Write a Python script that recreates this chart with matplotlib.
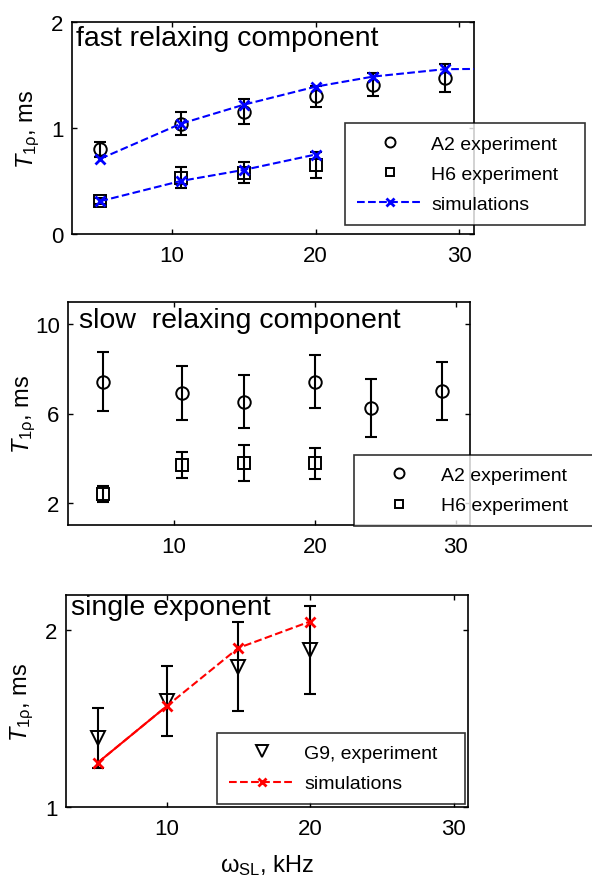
import matplotlib
matplotlib.use("Agg")
import matplotlib.pyplot as plt

plt.rcParams["font.family"] = ["Liberation Sans", "DejaVu Sans"]
plt.rcParams["mathtext.fontset"] = "custom"
plt.rcParams["mathtext.rm"] = "Liberation Sans"
plt.rcParams["mathtext.it"] = "Liberation Sans:italic"
plt.rcParams["mathtext.bf"] = "Liberation Sans:bold"

# ---- fast relaxing component ----
fast_x = [5, 10.6, 15, 20, 24, 29]
fast_a2 = [0.80, 1.04, 1.155, 1.30, 1.41, 1.47]
fast_a2_err = [0.07, 0.11, 0.12, 0.10, 0.11, 0.13]
fast_a2_sim_x = [5, 10.6, 15, 20, 24, 29, 34]
fast_a2_sim = [0.71, 1.04, 1.22, 1.39, 1.485, 1.555, 1.56]
fast_h6_x = [5, 10.6, 15, 20]
fast_h6 = [0.31, 0.53, 0.58, 0.65]
fast_h6_err = [0.03, 0.10, 0.10, 0.12]
fast_h6_sim = [0.31, 0.50, 0.605, 0.75]

# ---- slow relaxing component ----
slow_x = [5, 10.6, 15, 20, 24, 29]
slow_a2 = [7.43, 6.93, 6.53, 7.43, 6.23, 7.03]
slow_a2_err = [1.33, 1.2, 1.2, 1.2, 1.3, 1.3]
slow_h6_x = [5, 10.6, 15, 20]
slow_h6 = [2.39, 3.69, 3.77, 3.77]
slow_h6_err = [0.35, 0.6, 0.8, 0.7]

# ---- single exponent ----
g9_x = [5.2, 10, 15, 20]
g9 = [1.39, 1.60, 1.795, 1.89]
g9_err = [0.17, 0.20, 0.25, 0.25]
g9_sim = [1.25, 1.57, 1.90, 2.05]

W, H = 592, 879
fig = plt.figure(figsize=(W / 100, H / 100), dpi=100)


def px_axes(left, top, right, bottom):
    return fig.add_axes([left / W, 1 - bottom / H, (right - left) / W, (bottom - top) / H])


def style(ax):
    for s in ax.spines.values():
        s.set_linewidth(1.2)
    ax.tick_params(direction="in", top=True, right=True, length=3.5, width=1.0,
                   labelsize=16, colors="black")
    ax.tick_params(axis="x", pad=8)
    ax.tick_params(axis="y", pad=6)
    ax.set_ylabel(r"$T_{\mathrm{1\rho}}$, ms", fontsize=17)


def fig_legend(ax, handles, labels, left, top, right):
    leg = ax.legend(handles, labels, loc="upper left", mode="expand",
                    bbox_to_anchor=(left / W, 1 - top / H, (right - left) / W, 0),
                    bbox_transform=fig.transFigure, borderaxespad=0,
                    fontsize=14, frameon=True, fancybox=False, handlelength=3.4,
                    handletextpad=0.45, labelspacing=0.65, borderpad=0.62,
                    markerscale=0.8)
    leg.get_frame().set_edgecolor("black")
    leg.get_frame().set_linewidth(1.2)
    leg.set_zorder(10)
    return leg


eb = dict(fmt="none", ecolor="black", elinewidth=1.5, capsize=4, capthick=1.5, zorder=2)
mk = dict(linestyle="none", mfc="none", mec="black", mew=1.4, zorder=3)
sim_kw = dict(linestyle="--", marker="x", lw=1.5, ms=7, mew=2, zorder=4)

# ---------- top ----------
ax1 = px_axes(71.7, 23, 473.5, 235)
ax1.errorbar(fast_x, fast_a2, yerr=fast_a2_err, **eb)
ax1.errorbar(fast_h6_x, fast_h6, yerr=fast_h6_err, **eb)
h_a2, = ax1.plot(fast_x, fast_a2, marker="o", ms=9, **mk)
h_h6, = ax1.plot(fast_h6_x, fast_h6, marker="s", ms=8, **mk)
h_sim, = ax1.plot(fast_a2_sim_x, fast_a2_sim, color="#0000ff", **sim_kw)
ax1.plot(fast_h6_x, fast_h6_sim, color="#0000ff", **sim_kw)
ax1.set_xlim(3, 31)
ax1.set_ylim(0, 2)
ax1.set_xticks([10, 20, 30])
ax1.set_yticks([0, 1, 2])
style(ax1)
ax1.yaxis.set_label_coords(-0.075, 0.5)
ax1.text(0.01, 0.89, "fast relaxing component", transform=ax1.transAxes,
         fontsize=20.5, va="baseline", ha="left")
fig_legend(ax1, [h_a2, h_h6, h_sim], ["A2 experiment", "H6 experiment", "simulations"],
           344.5, 124, 585)

# ---------- middle ----------
ax2 = px_axes(68, 303, 470, 526)
ax2.errorbar(slow_x, slow_a2, yerr=slow_a2_err, **eb)
ax2.errorbar(slow_h6_x, slow_h6, yerr=slow_h6_err, **eb)
m_a2, = ax2.plot(slow_x, slow_a2, marker="o", ms=9, **mk)
m_h6, = ax2.plot(slow_h6_x, slow_h6, marker="s", ms=8, **mk)
ax2.set_xlim(2.5, 31)
ax2.set_ylim(1, 11)
ax2.set_xticks([10, 20, 30])
ax2.set_yticks([2, 6, 10])
style(ax2)
ax2.yaxis.set_label_coords(-0.075, 0.5)
ax2.text(0.027, 0.887, "slow  relaxing component", transform=ax2.transAxes,
         fontsize=20.5, va="baseline", ha="left")
fig_legend(ax2, [m_a2, m_h6], ["A2 experiment", "H6 experiment"], 354, 455.5, 640)

# ---------- bottom ----------
ax3 = px_axes(66, 596, 468, 808)
ax3.errorbar(g9_x, g9, yerr=g9_err, **eb)
b_g9, = ax3.plot(g9_x, g9, marker="v", ms=10, **mk)
b_sim, = ax3.plot(g9_x, g9_sim, color="#ff0000", **sim_kw)
ax3.plot(g9_x[:2], g9_sim[:2], color="#ff0000", lw=1.5, zorder=4)
ax3.set_xlim(3, 31)
ax3.set_ylim(1, 2.2)
ax3.set_xticks([10, 20, 30])
ax3.set_yticks([1, 2])
style(ax3)
ax3.yaxis.set_label_coords(-0.075, 0.5)
ax3.text(0.012, 0.909, "single exponent", transform=ax3.transAxes,
         fontsize=20.5, va="baseline", ha="left")
fig_legend(ax3, [b_g9, b_sim], ["G9, experiment", "simulations"], 217, 733.5, 465)
ax3.set_xlabel(r"$\mathrm{ω}_{\mathrm{SL}}$, kHz", fontsize=17, labelpad=9)

fig.savefig("out.png", dpi=100)
